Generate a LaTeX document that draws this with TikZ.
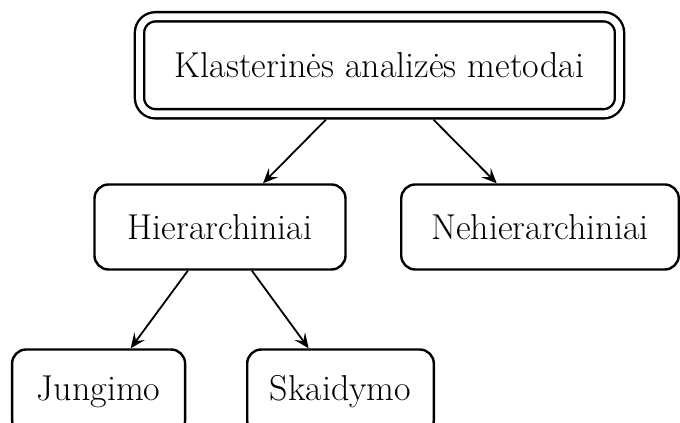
\documentclass[tikz,border=0pt]{standalone}
\usepackage{fontspec}
\setmainfont{lmroman17-regular.otf}
\usetikzlibrary{arrows.meta}
\begin{document}
\begin{tikzpicture}[>={Stealth[length=15bp,width=13bp,inset=6bp]},line join=round,
  font=\fontsize{36bp}{43bp}\selectfont,
  box/.style={draw,rounded corners=14bp,line width=2.4bp,minimum height=85bp,inner sep=0pt},
  rootbox/.style={box,double,double distance=6.8bp,rounded corners=16bp,minimum height=97bp,outer sep=5.8bp},
  link/.style={black,line width=1.8bp,->}]
\useasboundingbox (0bp,0bp) rectangle (680bp,423bp);
%%
\node (root) at (379.5bp,357.7bp) [rootbox,minimum width=480bp] {Klasterinės analizės metodai};
  \node (hier) at (220bp,196bp) [box,minimum width=251bp] {Hierarchiniai};
  \node (nehier) at (540bp,196bp) [box,minimum width=277.5bp] {Nehierarchiniai};
  \node (jung) at (98.6bp,31bp) [box,minimum width=173bp] {Jungimo};
  \node (skaid) at (340.5bp,31bp) [box,minimum width=186.6bp] {Skaidymo};
%
  \draw [link] (root) -- (hier);
  \draw [link] (root) -- (nehier);
  \draw [link] (hier) -- (jung);
  \draw [link] (hier) -- (skaid);
%
\end{tikzpicture}
\end{document}
